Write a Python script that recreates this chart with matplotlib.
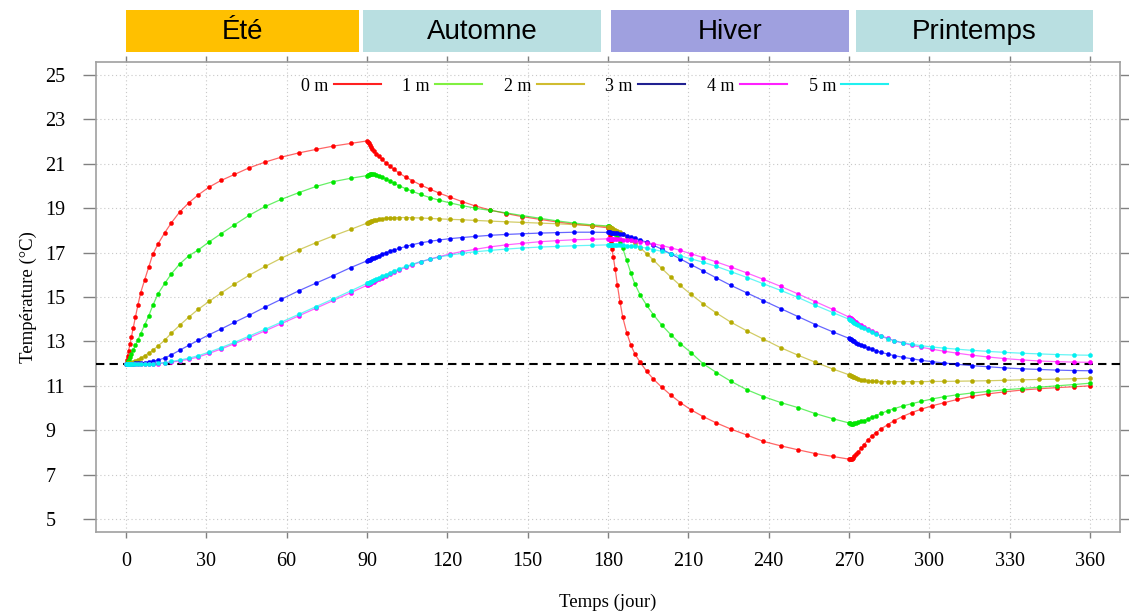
import matplotlib
matplotlib.use('Agg')
import matplotlib.pyplot as plt
from matplotlib.lines import Line2D
from matplotlib.patches import Rectangle
import matplotlib.transforms as mtransforms

# temps (jour) - pas de temps communs aux 6 profondeurs
jours = [
    0, 0.3, 0.6, 1, 1.5, 2, 2.7, 3.5, 4.5, 5.5, 7, 8.5, 10, 12, 14.5, 17, 20, 23.5, 27, 31, 35.5, 40.5, 46, 52, 58, 64.5, 71, 77.5, 84,
    90, 90.3, 90.6, 91, 91.5, 92, 92.7, 93.5, 94.5, 95.5, 97, 98.5, 100, 102, 104.5, 107, 110, 113.5, 117, 121, 125.5, 130.5, 136, 142, 148, 154.5, 161, 167.5, 174,
    180, 180.3, 180.6, 181, 181.5, 182, 182.7, 183.5, 184.5, 185.5, 187, 188.5, 190, 192, 194.5, 197, 200, 203.5, 207, 211, 215.5, 220.5, 226, 232, 238, 244.5, 251, 257.5, 264,
    270, 270.3, 270.6, 271, 271.5, 272, 272.7, 273.5, 274.5, 275.5, 277, 278.5, 280, 282, 284.5, 287, 290, 293.5, 297, 301, 305.5, 310.5, 316, 322, 328, 334.5, 341, 347.5, 354, 360]

# température (°C) par profondeur
t0m = [
    12.0, 12.18, 12.36, 12.59, 12.88, 13.18, 13.6, 14.08, 14.66, 15.2, 15.78, 16.35, 16.92, 17.4, 17.9, 18.35, 18.82, 19.25, 19.6, 19.95, 20.25, 20.52, 20.82, 21.08, 21.3, 21.49, 21.65, 21.8, 21.92,
    22.03, 21.98, 21.92, 21.85, 21.76, 21.68, 21.57, 21.46, 21.33, 21.21, 21.05, 20.9, 20.76, 20.58, 20.4, 20.24, 20.05, 19.86, 19.68, 19.5, 19.3, 19.1, 18.92, 18.76, 18.62, 18.5, 18.38, 18.28, 18.2,
    18.12, 18.0, 17.8, 17.5, 17.15, 16.8, 16.25, 15.55, 14.78, 14.1, 13.4, 12.85, 12.45, 12.06, 11.65, 11.3, 10.95, 10.58, 10.25, 9.92, 9.62, 9.33, 9.05, 8.78, 8.5, 8.3, 8.12, 7.95, 7.82,
    7.7, 7.69, 7.7, 7.72, 7.77, 7.82, 7.92, 8.04, 8.19, 8.34, 8.55, 8.74, 8.89, 9.06, 9.26, 9.44, 9.62, 9.8, 9.95, 10.1, 10.24, 10.39, 10.53, 10.64, 10.73, 10.81, 10.87, 10.92, 10.96, 11.0]
t1m = [
    12.0, 12.05, 12.1, 12.18, 12.3, 12.43, 12.62, 12.82, 13.08, 13.35, 13.75, 14.15, 14.62, 15.15, 15.62, 16.05, 16.48, 16.86, 17.12, 17.48, 17.85, 18.25, 18.68, 19.08, 19.4, 19.7, 19.98, 20.2, 20.35,
    20.47, 20.49, 20.5, 20.52, 20.53, 20.53, 20.52, 20.5, 20.46, 20.41, 20.33, 20.23, 20.13, 20.01, 19.88, 19.76, 19.62, 19.48, 19.36, 19.24, 19.12, 19.0, 18.9, 18.79, 18.67, 18.55, 18.43, 18.33, 18.25,
    18.2, 18.18, 18.15, 18.1, 18.04, 17.97, 17.86, 17.72, 17.5, 17.2, 16.65, 16.1, 15.6, 15.1, 14.62, 14.2, 13.75, 13.3, 12.9, 12.5, 12.0, 11.6, 11.2, 10.82, 10.52, 10.25, 10.02, 9.75, 9.52,
    9.33, 9.31, 9.3, 9.3, 9.3, 9.31, 9.33, 9.36, 9.4, 9.44, 9.51, 9.59, 9.66, 9.76, 9.88, 9.98, 10.09, 10.2, 10.3, 10.41, 10.51, 10.6, 10.68, 10.75, 10.82, 10.88, 10.94, 11.0, 11.06, 11.12]
t2m = [
    12.0, 12.0, 12.01, 12.02, 12.03, 12.05, 12.08, 12.12, 12.18, 12.25, 12.36, 12.48, 12.6, 12.8, 13.06, 13.38, 13.72, 14.1, 14.45, 14.8, 15.18, 15.58, 15.98, 16.38, 16.75, 17.12, 17.45, 17.76, 18.05,
    18.33, 18.35, 18.37, 18.39, 18.41, 18.43, 18.46, 18.48, 18.51, 18.53, 18.55, 18.57, 18.58, 18.58, 18.58, 18.57, 18.56, 18.54, 18.52, 18.5, 18.48, 18.45, 18.42, 18.39, 18.36, 18.33, 18.3, 18.26, 18.22,
    18.17, 18.16, 18.15, 18.13, 18.1, 18.07, 18.03, 17.98, 17.91, 17.83, 17.7, 17.56, 17.42, 17.22, 16.95, 16.66, 16.3, 15.9, 15.52, 15.12, 14.7, 14.28, 13.86, 13.47, 13.11, 12.72, 12.38, 12.06, 11.76,
    11.5, 11.48, 11.46, 11.44, 11.41, 11.38, 11.35, 11.32, 11.28, 11.26, 11.23, 11.21, 11.2, 11.19, 11.19, 11.19, 11.19, 11.19, 11.19, 11.2, 11.2, 11.21, 11.22, 11.23, 11.25, 11.27, 11.29, 11.3, 11.32, 11.34]
t3m = [
    12.0, 12.0, 12.0, 12.0, 12.0, 12.0, 12.0, 12.01, 12.02, 12.03, 12.05, 12.08, 12.11, 12.16, 12.26, 12.4, 12.6, 12.83, 13.05, 13.3, 13.56, 13.86, 14.18, 14.55, 14.9, 15.28, 15.63, 15.97, 16.33,
    16.63, 16.65, 16.67, 16.69, 16.72, 16.75, 16.78, 16.82, 16.87, 16.92, 16.99, 17.06, 17.12, 17.19, 17.28, 17.36, 17.44, 17.51, 17.57, 17.63, 17.68, 17.73, 17.78, 17.82, 17.85, 17.88, 17.9, 17.92, 17.92,
    17.91, 17.91, 17.91, 17.9, 17.9, 17.89, 17.88, 17.87, 17.85, 17.82, 17.77, 17.72, 17.66, 17.58, 17.46, 17.33, 17.16, 16.94, 16.72, 16.46, 16.18, 15.86, 15.52, 15.18, 14.84, 14.48, 14.12, 13.76, 13.43,
    13.14, 13.12, 13.1, 13.07, 13.03, 13.0, 12.95, 12.9, 12.84, 12.78, 12.71, 12.64, 12.58, 12.51, 12.43, 12.36, 12.29, 12.22, 12.15, 12.09, 12.03, 11.97, 11.91, 11.86, 11.81, 11.77, 11.74, 11.71, 11.69, 11.68]
t4m = [
    12.0, 12.0, 12.0, 12.0, 12.0, 11.99, 11.99, 11.98, 11.98, 11.98, 11.98, 11.98, 11.99, 12.0, 12.03, 12.07, 12.12, 12.2, 12.3, 12.46, 12.66, 12.9, 13.17, 13.48, 13.8, 14.15, 14.5, 14.85, 15.2,
    15.53, 15.55, 15.57, 15.59, 15.62, 15.66, 15.7, 15.75, 15.81, 15.87, 15.95, 16.04, 16.12, 16.22, 16.34, 16.45, 16.58, 16.71, 16.82, 16.94, 17.05, 17.15, 17.26, 17.35, 17.42, 17.49, 17.54, 17.58, 17.6,
    17.62, 17.62, 17.62, 17.62, 17.62, 17.61, 17.61, 17.6, 17.6, 17.59, 17.57, 17.55, 17.53, 17.5, 17.45, 17.4, 17.32, 17.22, 17.1, 16.95, 16.78, 16.58, 16.35, 16.08, 15.8, 15.48, 15.14, 14.79, 14.44,
    14.1, 14.07, 14.04, 14.0, 13.96, 13.92, 13.86, 13.8, 13.72, 13.65, 13.55, 13.46, 13.37, 13.26, 13.14, 13.03, 12.93, 12.83, 12.74, 12.65, 12.56, 12.47, 12.38, 12.3, 12.23, 12.17, 12.12, 12.09, 12.07, 12.06]
t5m = [
    12.0, 12.0, 12.0, 12.0, 12.0, 11.99, 11.99, 11.99, 11.98, 11.98, 11.98, 11.98, 12.0, 12.02, 12.05, 12.1, 12.16, 12.25, 12.36, 12.52, 12.72, 12.96, 13.24, 13.55, 13.87, 14.22, 14.57, 14.92, 15.28,
    15.62, 15.63, 15.65, 15.67, 15.7, 15.73, 15.77, 15.82, 15.88, 15.93, 16.01, 16.09, 16.17, 16.27, 16.38, 16.48, 16.6, 16.7, 16.8, 16.89, 16.97, 17.04, 17.1, 17.16, 17.21, 17.25, 17.28, 17.31, 17.33,
    17.35, 17.35, 17.35, 17.35, 17.35, 17.35, 17.34, 17.34, 17.34, 17.33, 17.32, 17.3, 17.28, 17.25, 17.2, 17.14, 17.06, 16.96, 16.85, 16.72, 16.57, 16.38, 16.14, 15.88, 15.6, 15.3, 14.98, 14.63, 14.3,
    14.0, 13.98, 13.96, 13.93, 13.89, 13.85, 13.8, 13.74, 13.67, 13.6, 13.5, 13.41, 13.33, 13.23, 13.12, 13.03, 12.95, 12.87, 12.81, 12.75, 12.7, 12.65, 12.6, 12.55, 12.51, 12.47, 12.44, 12.41, 12.39, 12.38]

profondeurs = ['0 m', '1 m', '2 m', '3 m', '4 m', '5 m']
series = [t0m, t1m, t2m, t3m, t4m, t5m]
cores = ['#ff0000', '#00e600', '#b4aa00', '#0000ff', '#ff00ff', '#00f0f0']
cores_leg = ['#ff2020', '#80f040', '#d0bc30', '#202090', '#ff20ff', '#20f0f0']

temp_initiale = 12

# saisons (début / fin en jours)
saisons = ['Été', 'Automne', 'Hiver', 'Printemps']
saison_debut = [0, 88.5, 181, 272.5]
saison_fin = [87, 177.5, 270, 361]
cores_saison = ['#ffc000', '#b9dfe1', '#9fa0df', '#b9dfe1']

plt.rcParams['font.family'] = ['Liberation Serif', 'DejaVu Serif']

fig = plt.figure(figsize=(11.29, 6.15), dpi=100)
ax = fig.add_axes([0.085, 0.135, 0.907, 0.764])

ax.set_xlim(-11.2, 371.2)
ax.set_ylim(4.42, 25.58)
ax.set_xticks(range(0, 361, 30))
ax.set_yticks(range(5, 26, 2))
ax.grid(True, color='#c8c8c8', linestyle=(0, (1, 2.5)), linewidth=0.8)
ax.set_axisbelow(True)

for s in ax.spines.values():
    s.set_color('#a0a0a0')
    s.set_linewidth(1.2)

ax.tick_params(axis='y', which='both', direction='out', length=9.5, width=1.0,
               color='#808080', labelsize=14.5, pad=27, right=True)
ax.tick_params(axis='x', which='both', direction='out', length=4.5, width=1.0,
               color='#808080', labelsize=14.5, pad=10, top=True)
for lab in ax.get_yticklabels():
    lab.set_horizontalalignment('left')

ax.axhline(temp_initiale, color='black', linestyle=(0, (4, 2.5)), linewidth=1.5, zorder=3)

for y, c in zip(series, cores):
    ax.plot(jours, y, color=c, linewidth=0.9, alpha=0.6, zorder=4)
    ax.plot(jours, y, linestyle='none', marker='o', markersize=3.0,
            markerfacecolor=c, markeredgecolor=c, markeredgewidth=0.3, zorder=5)

# boîtes des saisons au-dessus du graphique
trans = mtransforms.blended_transform_factory(ax.transData, ax.transAxes)
for nome, d0, d1, c in zip(saisons, saison_debut, saison_fin, cores_saison):
    ax.add_patch(Rectangle((d0, 1.021), d1 - d0, 0.09, transform=trans,
                           facecolor=c, edgecolor='none', clip_on=False))
    ax.text((d0 + d1) / 2, 1.064, nome, transform=trans, ha='center', va='center',
            fontsize=20, family=['Liberation Sans', 'DejaVu Sans'])

# légende
handles = [Line2D([], [], color=c, linewidth=1.5) for c in cores_leg]
ax.legend(handles, profondeurs, ncol=6, loc='center', bbox_to_anchor=(0.487, 0.949),
          frameon=False, markerfirst=False, fontsize=13, handlelength=2.6,
          handletextpad=0.3, columnspacing=1.2)

ax.set_xlabel('Temps (jour)', fontsize=13.5, labelpad=16)
ax.set_ylabel('Température (°C)', fontsize=13.5, labelpad=6)

fig.savefig('out.png', dpi=100)
